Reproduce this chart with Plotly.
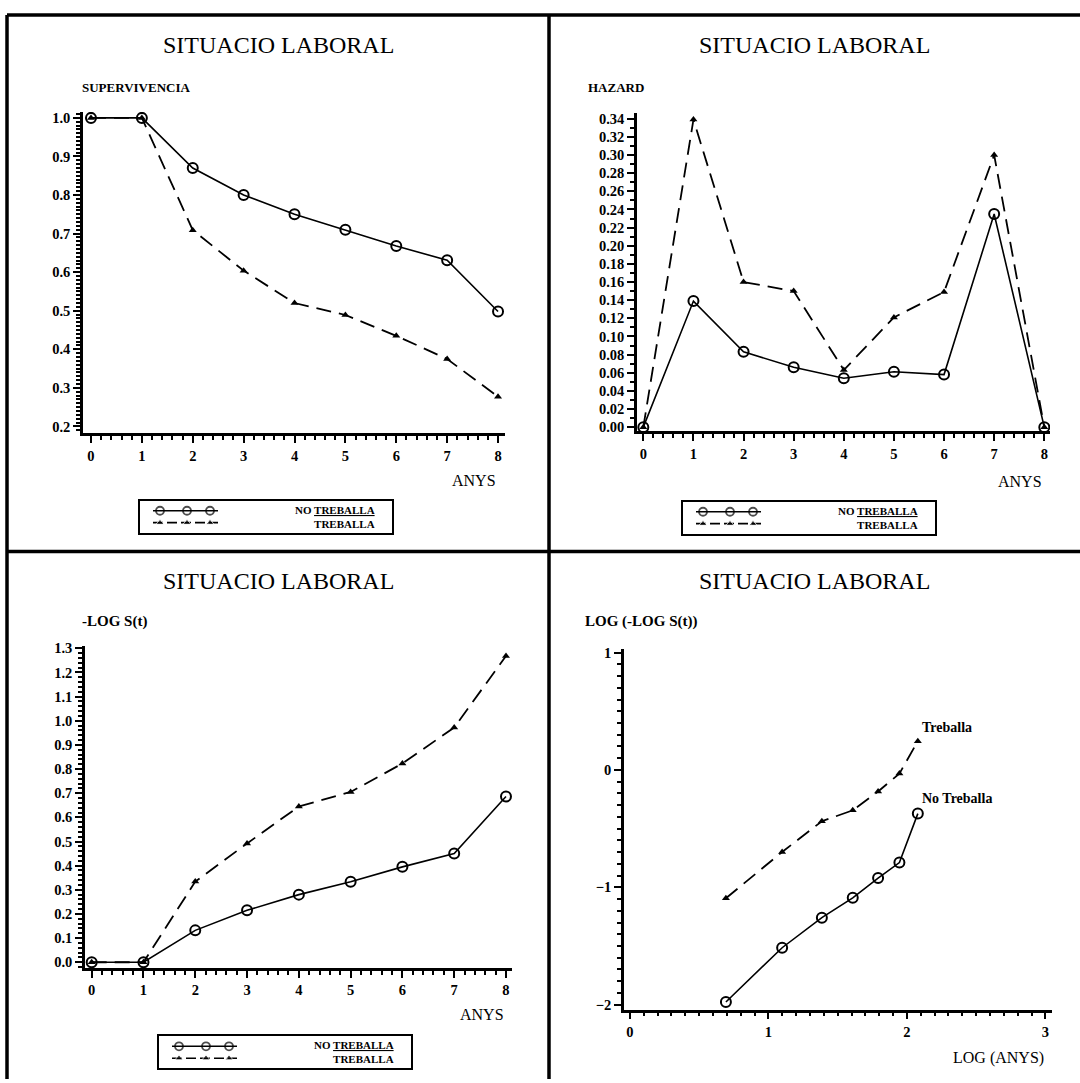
import plotly.graph_objects as go

W, H = 1080, 1083

# ---------------- data ----------------
years = [0, 1, 2, 3, 4, 5, 6, 7, 8]
surv_no = [1.0, 1.0, 0.87, 0.80, 0.75, 0.71, 0.668, 0.631, 0.498]
surv_si = [1.0, 1.0, 0.709, 0.604, 0.52, 0.489, 0.435, 0.375, 0.277]
haz_no = [0.0, 0.139, 0.083, 0.066, 0.054, 0.061, 0.058, 0.235, 0.0]
haz_si = [0.0, 0.339, 0.160, 0.150, 0.063, 0.121, 0.149, 0.300, 0.0]
mlog_no = [0.0, 0.0, 0.132, 0.215, 0.28, 0.333, 0.395, 0.45, 0.686]
mlog_si = [0.0, 0.0, 0.334, 0.492, 0.645, 0.705, 0.823, 0.972, 1.268]
log_years = [0.693, 1.099, 1.386, 1.609, 1.792, 1.946, 2.079]
loglog_no = [-1.977, -1.515, -1.259, -1.090, -0.921, -0.789, -0.372]
loglog_si = [-1.093, -0.699, -0.437, -0.344, -0.183, -0.031, 0.245]

title_text = "SITUACIO LABORAL"
lab_no = "NO TREBALLA"
lab_si = "TREBALLA"


def fx(px):
    return px / W


def fy(py):
    return 1 - py / H


SERIF = "Liberation Serif"
tickfont = dict(family=SERIF, size=14.5, color="black", weight="bold")

fig = go.Figure()


def add_pair(x, y_no, y_si, xa, ya, circ_size=10):
    fig.add_trace(go.Scatter(
        x=x, y=y_no, mode="lines+markers", xaxis=xa, yaxis=ya, showlegend=False,
        line=dict(color="black", width=1.6),
        marker=dict(symbol="circle-open", size=circ_size, color="black", line=dict(width=2))))
    fig.add_trace(go.Scatter(
        x=x, y=y_si, mode="lines+markers", xaxis=xa, yaxis=ya, showlegend=False,
        line=dict(color="black", width=1.8, dash="15px,8px"),
        marker=dict(symbol="triangle-up", size=7, color="black")))


add_pair(years, surv_no, surv_si, "x", "y")
add_pair(years, haz_no, haz_si, "x2", "y2")
add_pair(years, mlog_no, mlog_si, "x3", "y3")
add_pair(log_years, loglog_no, loglog_si, "x4", "y4")


def xax(d0, d1, r, dtick, minor, anchor):
    return dict(domain=[fx(d0), fx(d1)], range=r, anchor=anchor, showgrid=False,
                zeroline=False, showline=True, linecolor="black", linewidth=2.5,
                ticks="outside", ticklen=7, tickwidth=2, tickcolor="black",
                tick0=0, dtick=dtick, tickfont=tickfont,
                minor=dict(ticks="outside", ticklen=4, tickwidth=1.5, tickcolor="black",
                           tick0=0, dtick=minor, showgrid=False))


def yax(d0, d1, r, dtick, minor, anchor, fmt, tick0=0):
    return dict(domain=[fy(d1), fy(d0)], range=r, anchor=anchor, showgrid=False,
                zeroline=False, showline=True, linecolor="black", linewidth=2.5,
                ticks="outside", ticklen=7, tickwidth=2, tickcolor="black",
                tick0=tick0, dtick=dtick, tickformat=fmt, tickfont=tickfont,
                minor=dict(ticks="outside", ticklen=4, tickwidth=1.5, tickcolor="black",
                           tick0=tick0, dtick=minor, showgrid=False))


layout = dict(
    width=W, height=H, margin=dict(l=0, r=0, t=0, b=0),
    paper_bgcolor="white", plot_bgcolor="white", showlegend=False,
    xaxis=xax(83, 505, [-0.157, 8.137], 1, 0.2, "y"),
    yaxis=yax(108, 432, [0.182, 1.015], 0.1, 0.01, "x", ".1f"),
    xaxis2=xax(637, 1050, [-0.126, 8.114], 1, 0.2, "y2"),
    yaxis2=yax(109, 430, [-0.0047, 0.3462], 0.02, 0.01, "x2", ".2f"),
    xaxis3=xax(85, 512, [-0.129, 8.116], 1, 0.2, "y3"),
    yaxis3=yax(646, 971, [-0.0235, 1.311], 0.1, 0.02, "x3", ".1f"),
    xaxis4=xax(624, 1052, [-0.043, 3.048], 1, 0.1, "y4"),
    yaxis4=yax(649, 1013, [-2.042, 1.034], 1, 0.1, "x4", "d", tick0=0),
)

# ---------------- legends (small boxes) ----------------
legend_boxes = [(140, 500), (683, 501), (159, 1040)]
annotations = []
for i, (bx, by) in enumerate(legend_boxes):
    n = 5 + i
    xa, ya = f"x{n}", f"y{n}"
    layout[f"xaxis{n}"] = dict(domain=[fx(bx), fx(bx + 252)], range=[0, 252], anchor=ya,
                               showgrid=False, zeroline=False, showticklabels=False,
                               ticks="", showline=True, mirror=True, linecolor="black",
                               linewidth=2, fixedrange=True)
    layout[f"yaxis{n}"] = dict(domain=[fy(by + 32), fy(by)], range=[32, 0], anchor=xa,
                               showgrid=False, zeroline=False, showticklabels=False,
                               ticks="", showline=True, mirror=True, linecolor="black",
                               linewidth=2, fixedrange=True)
    fig.add_trace(go.Scatter(x=[13, 20, 47, 70, 78], y=[10, 10, 10, 10, 10], xaxis=xa, yaxis=ya,
                             mode="lines+markers", showlegend=False, hoverinfo="skip",
                             line=dict(color="black", width=1.5),
                             marker=dict(symbol="circle-open", size=[0, 8, 8, 8, 0], color="black",
                                         line=dict(width=1.8))))
    fig.add_trace(go.Scatter(x=[13, 20, 47, 70, 78], y=[22, 22, 22, 22, 22], xaxis=xa, yaxis=ya,
                             mode="lines+markers", showlegend=False, hoverinfo="skip",
                             line=dict(color="black", width=1.6, dash="10px,4px"),
                             marker=dict(symbol="triangle-up", size=[0, 7, 7, 7, 0], color="black")))
    annotations.append(dict(x=fx(bx + 237), y=fy(by + 16), xref="paper", yref="paper",
                            text=f"NO <u>{lab_si}</u><br>{lab_si}", showarrow=False,
                            xanchor="right", yanchor="middle", align="right",
                            font=dict(family=SERIF, size=11, color="black", weight="bold")))

# ---------------- titles & labels ----------------
for cx, cy in [(278, 40), (814, 40), (278, 581), (814, 581)]:
    annotations.append(dict(x=fx(cx), y=fy(cy), xref="paper", yref="paper", text=title_text,
                            showarrow=False, xanchor="center", yanchor="middle",
                            font=dict(family=SERIF, size=24, color="black")))

ylabels = [("SUPERVIVENCIA", 80, 83, True), ("HAZARD", 586, 83, True),
           ("-LOG S(t)", 80, 622, False), ("LOG (-LOG S(t))", 583, 622, False)]
for t, x0, y0, b in ylabels:
    annotations.append(dict(x=fx(x0), y=fy(y0), xref="paper", yref="paper", text=t,
                            showarrow=False, xanchor="left", yanchor="middle",
                            font=dict(family=SERIF, size=13 if b else 15, color="black",
                                      weight="bold")))

xlabels = [("ANYS", 498, 479), ("ANYS", 1044, 480), ("ANYS", 506, 1018), ("LOG (ANYS)", 1046, 1062)]
for t, x0, y0 in xlabels:
    annotations.append(dict(x=fx(x0), y=fy(y0), xref="paper", yref="paper", text=t,
                            showarrow=False, xanchor="right", yanchor="middle",
                            font=dict(family=SERIF, size=16, color="black")))

annotations.append(dict(x=log_years[-1], y=loglog_si[-1], xref="x4", yref="y4", text="Treballa",
                        showarrow=False, xanchor="left", yanchor="bottom", xshift=2, yshift=4,
                        font=dict(family=SERIF, size=14, color="black", weight="bold")))
annotations.append(dict(x=log_years[-1], y=loglog_no[-1], xref="x4", yref="y4", text="No Treballa",
                        showarrow=False, xanchor="left", yanchor="bottom", xshift=2, yshift=6,
                        font=dict(family=SERIF, size=14, color="black", weight="bold")))

layout["annotations"] = annotations

# ---------------- frame lines ----------------
shapes = []
frame = [(7, 10, 1080, 10), (7, 10, 7, 1083), (549, 10, 549, 1083), (7, 551, 1080, 551)]
for x0, y0, x1, y1 in frame:
    shapes.append(dict(type="line", xref="paper", yref="paper", x0=fx(x0), y0=fy(y0),
                       x1=fx(x1), y1=fy(y1), line=dict(color="black", width=3.5)))
layout["shapes"] = shapes

fig.update_layout(**layout)
fig.write_html("out.html")
